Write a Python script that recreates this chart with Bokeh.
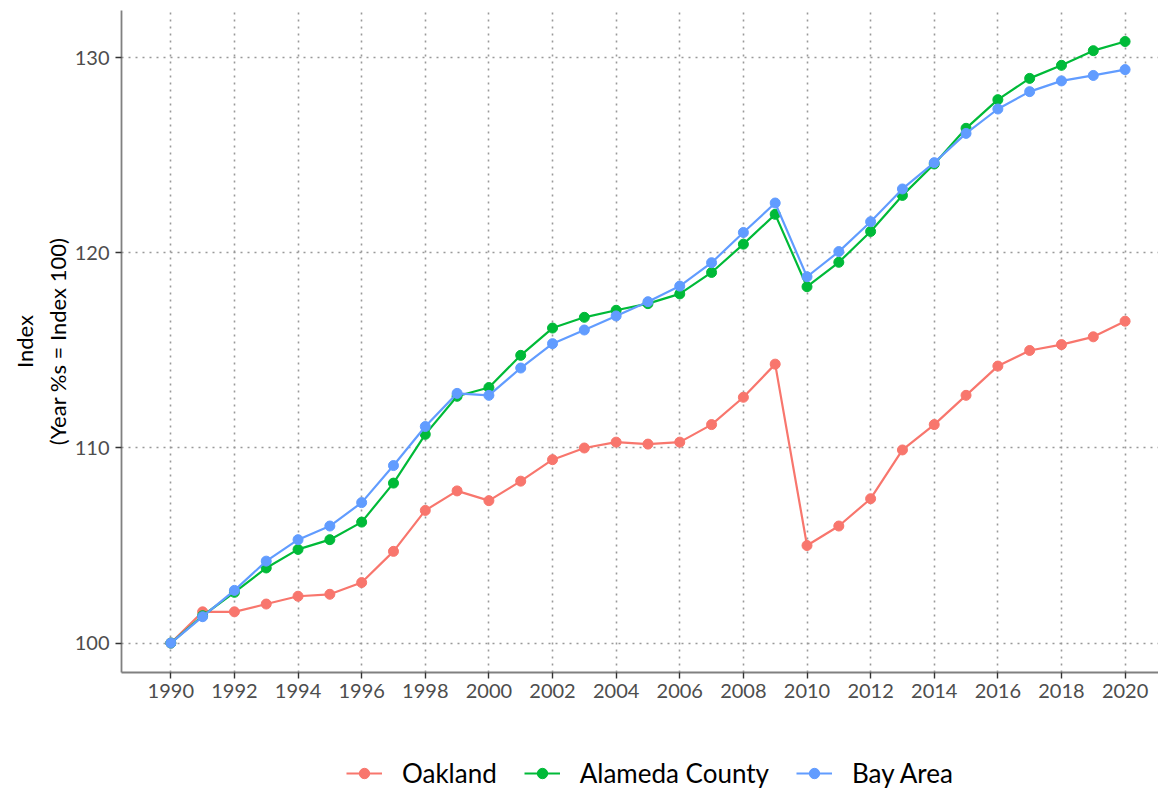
from bokeh.plotting import figure
from bokeh.layouts import column
from bokeh.models import Range1d, FixedTicker, Legend, LegendItem
from bokeh.embed import file_html
from bokeh.resources import INLINE

years = list(range(1990, 2021))
oakland = [100.0, 101.6, 101.6, 102.0, 102.4, 102.5, 103.1, 104.7, 106.8, 107.8,
           107.3, 108.3, 109.4, 110.0, 110.3, 110.2, 110.3, 111.2, 112.6, 114.3,
           105.0, 106.0, 107.4, 109.9, 111.2, 112.7, 114.2, 115.0, 115.3, 115.7,
           116.5]
alameda = [100.0, 101.4, 102.6, 103.85, 104.8, 105.3, 106.2, 108.2, 110.7, 112.65,
           113.1, 114.75, 116.15, 116.7, 117.06, 117.4, 117.9, 119.0, 120.45, 121.98,
           118.27, 119.52, 121.1, 122.95, 124.56, 126.39, 127.86, 128.95, 129.62, 130.37,
           130.84]
bay_area = [100.0, 101.35, 102.7, 104.2, 105.3, 106.0, 107.2, 109.1, 111.1, 112.8,
            112.7, 114.1, 115.35, 116.05, 116.77, 117.5, 118.3, 119.5, 121.05, 122.56,
            118.78, 120.07, 121.6, 123.28, 124.63, 126.13, 127.38, 128.27, 128.82, 129.1,
            129.4]

series_names = ["Oakland", "Alameda County", "Bay Area"]
series_values = [oakland, alameda, bay_area]
series_colors = ["#F8766D", "#00BA38", "#619CFF"]

x_ticks = list(range(1990, 2021, 2))
y_ticks = [100, 110, 120, 130]

FONT = "Lato"

p = figure(frame_width=1037, frame_height=662, output_backend="svg", toolbar_location=None,
           x_range=Range1d(1988.45, 2021.05), y_range=Range1d(98.49, 132.43),
           min_border_left=121, min_border_right=0, min_border_top=10, min_border_bottom=40)
p.outline_line_color = None
p.background_fill_color = "white"

for name, vals, col in zip(series_names, series_values, series_colors):
    p.line(years, vals, line_color=col, line_width=2.2)
    p.scatter(years, vals, size=10, fill_color=col, line_color=col)

# axes
for ax in (p.xaxis[0], p.yaxis[0]):
    ax.axis_line_color = "#808080"
    ax.axis_line_width = 1.8
    ax.major_tick_line_color = "#333333"
    ax.major_tick_line_width = 1.4
    ax.major_tick_out = 6
    ax.major_tick_in = 0
    ax.minor_tick_line_color = None
    ax.major_label_text_font = FONT
    ax.major_label_text_font_size = "20px"
    ax.major_label_text_color = "#4D4D4D"

p.xaxis.ticker = FixedTicker(ticks=x_ticks)
p.yaxis.ticker = FixedTicker(ticks=y_ticks)
p.xaxis.major_label_standoff = 5
p.yaxis.major_label_standoff = 6

p.yaxis.axis_label = "Index\n(Year %s = Index 100)"
p.yaxis.axis_label_text_font = FONT
p.yaxis.axis_label_text_font_size = "22px"
p.yaxis.axis_label_text_font_style = "normal"
p.yaxis.axis_label_text_color = "black"
p.yaxis.axis_label_standoff = 1

# grid
for g in (p.xgrid[0], p.ygrid[0]):
    g.grid_line_color = "#999999"
    g.grid_line_width = 1.6
    g.grid_line_dash = "2 5"
p.xgrid.ticker = FixedTicker(ticks=x_ticks)
p.ygrid.ticker = FixedTicker(ticks=y_ticks)

# legend strip (series drawn outside its visible range, only the legend shows)
pl = figure(width=1158, height=120, output_backend="svg", toolbar_location=None,
            x_range=Range1d(0, 1), y_range=Range1d(0, 1),
            min_border_left=0, min_border_right=0, min_border_top=0, min_border_bottom=0)
pl.outline_line_color = None
pl.xaxis.visible = False
pl.yaxis.visible = False
pl.xgrid.visible = False
pl.ygrid.visible = False

items = []
for name, vals, col in zip(series_names, series_values, series_colors):
    lr = pl.line(years, vals, line_color=col, line_width=2.2)
    cr = pl.scatter(years, vals, size=10, fill_color=col, line_color=col)
    items.append(LegendItem(label=name, renderers=[lr, cr]))

legend = Legend(items=items, orientation="horizontal", location=(225, 43),
                label_text_font=FONT, label_text_font_size="26px",
                label_text_color="black",
                glyph_width=36, glyph_height=26, label_standoff=20, spacing=27,
                border_line_color=None, background_fill_alpha=0,
                padding=2, margin=0)
pl.add_layout(legend, "center")

layout = column(p, pl, spacing=0)
open("out.html", "w").write(file_html(layout, INLINE))
